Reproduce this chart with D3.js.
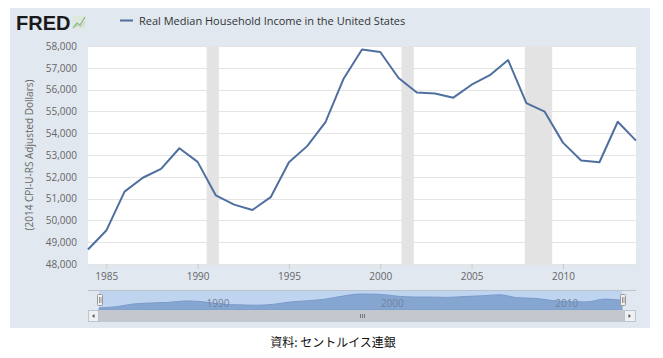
<!DOCTYPE html>
<html><head><meta charset="utf-8">
<script src="https://cdn.jsdelivr.net/npm/d3@7"></script>
<style>
html,body{margin:0;padding:0;background:#fff;}
svg{display:block;}
text{font-family:"Open Sans","Noto Sans",sans-serif;}
</style></head>
<body>
<svg id="c" width="663" height="358"></svg>
<script>
const years = [1984,1985,1986,1987,1988,1989,1990,1991,1992,1993,1994,1995,1996,1997,1998,1999,2000,2001,2002,2003,2004,2005,2006,2007,2008,2009,2010,2011,2012,2013,2014];
const income = [48664,49534,51318,51956,52364,53310,52684,51145,50725,50478,51065,52664,53407,54506,56510,57843,57724,56531,55871,55823,55629,56224,56663,57357,55376,54988,53568,52751,52666,54525,53657];
const recessionStart = ["1990-07-01","2001-03-01","2007-12-01"];
const recessionEnd = ["1991-03-01","2001-11-01","2009-06-01"];
const yTicks = [48000,49000,50000,51000,52000,53000,54000,55000,56000,57000,58000];
const xTickYears = [1985,1990,1995,2000,2005,2010];
const navTickYears = [1990,2000,2010];
const seriesName = "Real Median Household Income in the United States";
const yTitle = "(2014 CPI-U-RS Adjusted Dollars)";
const caption = "資料: セントルイス連銀";

const svg = d3.select("#c");
const parse = d3.timeParse("%Y-%m-%d");
const data = years.map((y,i)=>({date:new Date(y,0,1), v:income[i]}));

// panel
svg.append("rect").attr("x",10).attr("y",8).attr("width",640).attr("height",320).attr("fill","#e1e8f0");

const x = d3.scaleTime().domain([new Date(1984,0,1), new Date(2014,0,1)]).range([88,636]);
const y = d3.scaleLinear().domain([48000,58000]).range([264,46]);

svg.append("rect").attr("x",88).attr("y",46).attr("width",548).attr("height",218).attr("fill","#fff");

// recessions
svg.append("g").selectAll("rect").data(recessionStart).join("rect")
  .attr("x",(d)=>x(parse(d)))
  .attr("width",(d,i)=>x(parse(recessionEnd[i]))-x(parse(d)))
  .attr("y",46).attr("height",218).attr("fill","#e3e3e3");

// grid
svg.append("g").selectAll("line").data(yTicks).join("line")
  .attr("x1",88).attr("x2",636).attr("y1",d=>Math.round(y(d))+0.5).attr("y2",d=>Math.round(y(d))+0.5)
  .attr("stroke","#e4e4e4").attr("stroke-width",1);

// y labels
const yAxis = d3.axisLeft(y).tickValues(yTicks).tickFormat(d3.format(",")).tickSize(0).tickPadding(11);
const yg = svg.append("g").attr("transform","translate(88,0)").call(yAxis);
yg.select(".domain").remove();
yg.selectAll("text").attr("fill","#666").style("font-size","10px").style("font-family","'Open Sans',sans-serif");

// x axis
const xAxis = d3.axisBottom(x).tickValues(xTickYears.map(v=>new Date(v,0,1))).tickFormat(d3.timeFormat("%Y")).tickSize(5).tickPadding(4);
const xg = svg.append("g").attr("transform","translate(0,264)").call(xAxis);
xg.select(".domain").remove();
xg.selectAll("line").attr("stroke","#c8ccd0");
xg.selectAll("text").attr("fill","#666").style("font-size","10px").style("font-family","'Open Sans',sans-serif");

// y title
svg.append("text").attr("transform","translate(33,155) rotate(-90)").attr("text-anchor","middle")
  .attr("fill","#666").style("font-size","10px").text(yTitle);

// line
svg.append("path").datum(data)
  .attr("d", d3.line().x(d=>x(d.date)).y(d=>y(d.v)))
  .attr("fill","none").attr("stroke","#4f6f9f").attr("stroke-width",2).attr("stroke-linejoin","round");

// header: logo
svg.append("text").attr("x",16).attr("y",30).attr("fill","#1a1a1a")
  .style("font-family","'Liberation Sans',Arial,sans-serif").style("font-weight","900")
  .style("font-size","20px").text("FRED");
const icon = svg.append("g");
icon.append("rect").attr("x",72).attr("y",16).attr("width",14).attr("height",13).attr("fill","#dfe8df");
icon.append("polyline").attr("points","73,28 77,23 80,25 85,17").attr("fill","none").attr("stroke","#8fb88d").attr("stroke-width",1.3);
icon.append("polyline").attr("points","73,28 78,25 81,27 85,22").attr("fill","none").attr("stroke","#b0cfac").attr("stroke-width",1);

// legend
svg.append("line").attr("x1",120).attr("x2",133).attr("y1",20.5).attr("y2",20.5).attr("stroke","#4f6f9f").attr("stroke-width",2);
svg.append("text").attr("x",139).attr("y",24.5).attr("fill","#333").style("font-size","11px").text(seriesName);

// navigator
const nx = d3.scaleTime().domain([new Date(1984,0,1), new Date(2014,0,1)]).range([99,622]);
const ny = d3.scaleLinear().domain([d3.min(income), d3.max(income)]).range([308,294]);
svg.append("line").attr("x1",88).attr("x2",636).attr("y1",290.5).attr("y2",290.5).attr("stroke","#b9c3cf");
svg.append("rect").attr("x",99).attr("y",291).attr("width",523).attr("height",19).attr("fill","#bfd4ee");
svg.append("path").datum(data)
  .attr("d", d3.area().curve(d3.curveMonotoneX).x(d=>nx(d.date)).y0(310).y1(d=>ny(d.v)))
  .attr("fill","#86a6d2").attr("stroke","#7a9acb").attr("stroke-width",1);
svg.append("g").selectAll("text").data(navTickYears).join("text")
  .attr("x",d=>nx(new Date(d,0,1))+3).attr("y",307)
  .attr("fill","#71829a").style("font-size","10px").text(d=>d);
// scrollbar
svg.append("rect").attr("x",88).attr("y",310).attr("width",548).attr("height",12).attr("fill","#c3c8ce");
svg.append("rect").attr("x",88.5).attr("y",310.5).attr("width",10).attr("height",11).attr("fill","#eef0f2").attr("stroke","#c0c4ca");
svg.append("rect").attr("x",624.5).attr("y",310.5).attr("width",11).attr("height",11).attr("fill","#eef0f2").attr("stroke","#c0c4ca");
svg.append("path").attr("d","M92,316 L94.5,314 L94.5,318 Z").attr("fill","#555");
svg.append("path").attr("d","M631,316 L628.5,314 L628.5,318 Z").attr("fill","#555");
[-2,0,2].forEach(o=>svg.append("line").attr("x1",362+o+0.5).attr("x2",362+o+0.5).attr("y1",314).attr("y2",318).attr("stroke","#777"));
// handles
[97,620].forEach((hx)=>{
  svg.append("rect").attr("x",hx+0.5).attr("y",294.5).attr("width",5).attr("height",11).attr("rx",1).attr("fill","#f2f2f2").attr("stroke","#999");
  svg.append("line").attr("x1",hx+2.5).attr("x2",hx+2.5).attr("y1",297).attr("y2",303).attr("stroke","#999");
  svg.append("line").attr("x1",hx+4).attr("x2",hx+4).attr("y1",297).attr("y2",303).attr("stroke","#999");
});

// caption
svg.append("text").attr("x",333).attr("y",347).attr("text-anchor","middle").attr("fill","#111")
  .style("font-family","'Noto Sans CJK JP',sans-serif").style("font-size","12px").text(caption);
</script>
</body></html>
